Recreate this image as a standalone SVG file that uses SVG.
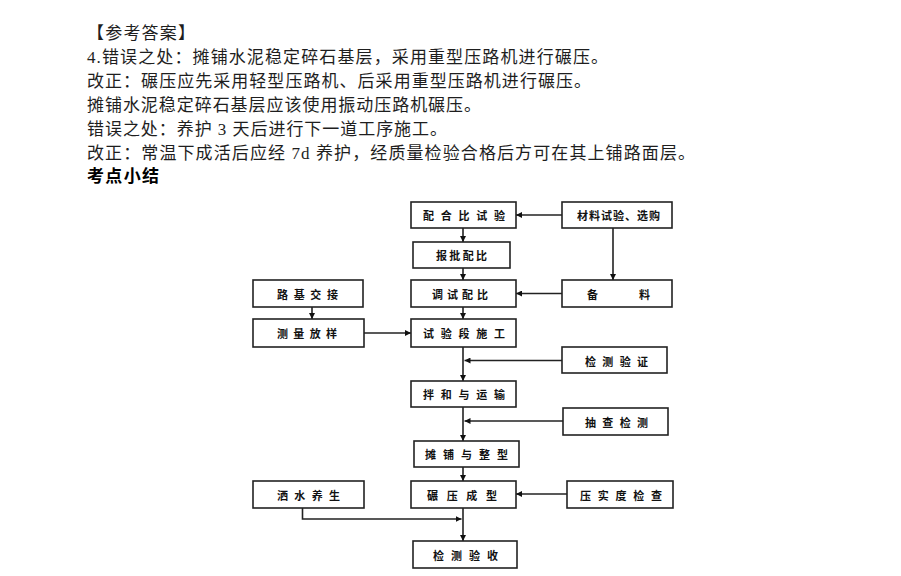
<svg xmlns="http://www.w3.org/2000/svg" width="901" height="576" viewBox="0 0 901 576">
<style>
.t{font-family:"Liberation Serif","Noto Sans CJK SC",serif;font-size:17px;fill:#1e1e1e}
.h{font-family:"Noto Sans CJK SC",sans-serif;font-size:17px;font-weight:bold;fill:#000}
.b{fill:#fff;stroke:#222;stroke-width:1.6}
.l{font-family:"Noto Sans CJK SC",sans-serif;font-size:11px;font-weight:bold;fill:#111;dominant-baseline:central}
.c{fill:none;stroke:#222;stroke-width:1.6}
</style>
<defs>
<marker id="ah" viewBox="0 0 10 10" refX="10" refY="5" markerWidth="6" markerHeight="6" markerUnits="userSpaceOnUse" orient="auto">
<path d="M0,0 L10,5 L0,10 z" fill="#111"/>
</marker>
</defs>
<rect width="901" height="576" fill="#fff"/>
<g id="text">
<text class="t" x="87" y="38.5" textLength="108" lengthAdjust="spacing">【参考答案】</text>
<text class="t" x="87" y="62.5" textLength="521" lengthAdjust="spacing">4.错误之处：摊铺水泥稳定碎石基层，采用重型压路机进行碾压。</text>
<text class="t" x="87" y="86.5" textLength="504" lengthAdjust="spacing">改正：碾压应先采用轻型压路机、后采用重型压路机进行碾压。</text>
<text class="t" x="87" y="110.5" textLength="394" lengthAdjust="spacing">摊铺水泥稳定碎石基层应该使用振动压路机碾压。</text>
<text class="t" x="87" y="134.5" textLength="360" lengthAdjust="spacing">错误之处：养护 3 天后进行下一道工序施工。</text>
<text class="t" x="87" y="158.5" textLength="608" lengthAdjust="spacing">改正：常温下成活后应经 7d 养护，经质量检验合格后方可在其上铺路面层。</text>
<text class="h" x="87" y="181.5" textLength="72" lengthAdjust="spacing">考点小结</text>
</g>
<g id="connectors">
<line class="c" x1="463" y1="228" x2="463" y2="242" marker-end="url(#ah)"/>
<line class="c" x1="463" y1="268" x2="463" y2="280" marker-end="url(#ah)"/>
<line class="c" x1="463" y1="307" x2="463" y2="319" marker-end="url(#ah)"/>
<line class="c" x1="463" y1="347" x2="463" y2="381" marker-end="url(#ah)"/>
<line class="c" x1="463" y1="407" x2="463" y2="441" marker-end="url(#ah)"/>
<line class="c" x1="463" y1="467" x2="463" y2="481" marker-end="url(#ah)"/>
<line class="c" x1="463" y1="508" x2="463" y2="541" marker-end="url(#ah)"/>
<line class="c" x1="562" y1="215" x2="516" y2="215" marker-end="url(#ah)"/>
<line class="c" x1="613" y1="228" x2="613" y2="280" marker-end="url(#ah)"/>
<line class="c" x1="562" y1="293.5" x2="516" y2="293.5" marker-end="url(#ah)"/>
<line class="c" x1="312" y1="307" x2="312" y2="319" marker-end="url(#ah)"/>
<line class="c" x1="364" y1="333" x2="411" y2="333" marker-end="url(#ah)"/>
<line class="c" x1="562" y1="360.5" x2="464.5" y2="360.5" marker-end="url(#ah)"/>
<line class="c" x1="563" y1="421" x2="464.5" y2="421" marker-end="url(#ah)"/>
<line class="c" x1="567" y1="494" x2="516" y2="494" marker-end="url(#ah)"/>
<polyline class="c" points="302.5,508 302.5,519 461.5,519" marker-end="url(#ah)"/>
</g>
<g id="n1"><rect class="b" x="411" y="202" width="105" height="26"/><text class="l" x="423" y="215" textLength="82" lengthAdjust="spacing">配合比试验</text></g>
<g id="n2"><rect class="b" x="562" y="202" width="110" height="26"/><text class="l" x="577" y="215" textLength="83" lengthAdjust="spacing">材料试验、选购</text></g>
<g id="n3"><rect class="b" x="413" y="242" width="97" height="26"/><text class="l" x="436" y="255" textLength="51" lengthAdjust="spacing">报批配比</text></g>
<g id="n4"><rect class="b" x="253" y="280" width="110" height="27"/><text class="l" x="277" y="293.5" textLength="61" lengthAdjust="spacing">路基交接</text></g>
<g id="n5"><rect class="b" x="411" y="280" width="105" height="27"/><text class="l" x="432" y="293.5" textLength="56" lengthAdjust="spacing">调试配比</text></g>
<g id="n6"><rect class="b" x="562" y="280" width="110" height="27"/><text class="l" x="587" y="293.5" textLength="63" lengthAdjust="spacing">备　　料</text></g>
<g id="n7"><rect class="b" x="253" y="319" width="111" height="28"/><text class="l" x="277" y="333" textLength="60" lengthAdjust="spacing">测量放样</text></g>
<g id="n8"><rect class="b" x="411" y="319" width="105" height="28"/><text class="l" x="423" y="333" textLength="82" lengthAdjust="spacing">试验段施工</text></g>
<g id="n9"><rect class="b" x="562" y="347" width="105" height="26"/><text class="l" x="585" y="360.5" textLength="63" lengthAdjust="spacing">检测验证</text></g>
<g id="n10"><rect class="b" x="411" y="381" width="105" height="26"/><text class="l" x="423" y="394" textLength="82" lengthAdjust="spacing">拌和与运输</text></g>
<g id="n11"><rect class="b" x="563" y="408" width="105" height="27"/><text class="l" x="585" y="421.5" textLength="63" lengthAdjust="spacing">抽查检测</text></g>
<g id="n12"><rect class="b" x="414" y="441" width="105" height="26"/><text class="l" x="425" y="454" textLength="83" lengthAdjust="spacing">摊铺与整型</text></g>
<g id="n13"><rect class="b" x="253" y="481" width="111" height="27"/><text class="l" x="277" y="494.5" textLength="63" lengthAdjust="spacing">洒水养生</text></g>
<g id="n14"><rect class="b" x="411" y="481" width="105" height="27"/><text class="l" x="427" y="494.5" textLength="70" lengthAdjust="spacing">碾压成型</text></g>
<g id="n15"><rect class="b" x="567" y="481" width="106" height="27"/><text class="l" x="580" y="494.5" textLength="82" lengthAdjust="spacing">压实度检查</text></g>
<g id="n16"><rect class="b" x="413" y="541" width="104" height="27"/><text class="l" x="433" y="554.5" textLength="65" lengthAdjust="spacing">检测验收</text></g>
</svg>
